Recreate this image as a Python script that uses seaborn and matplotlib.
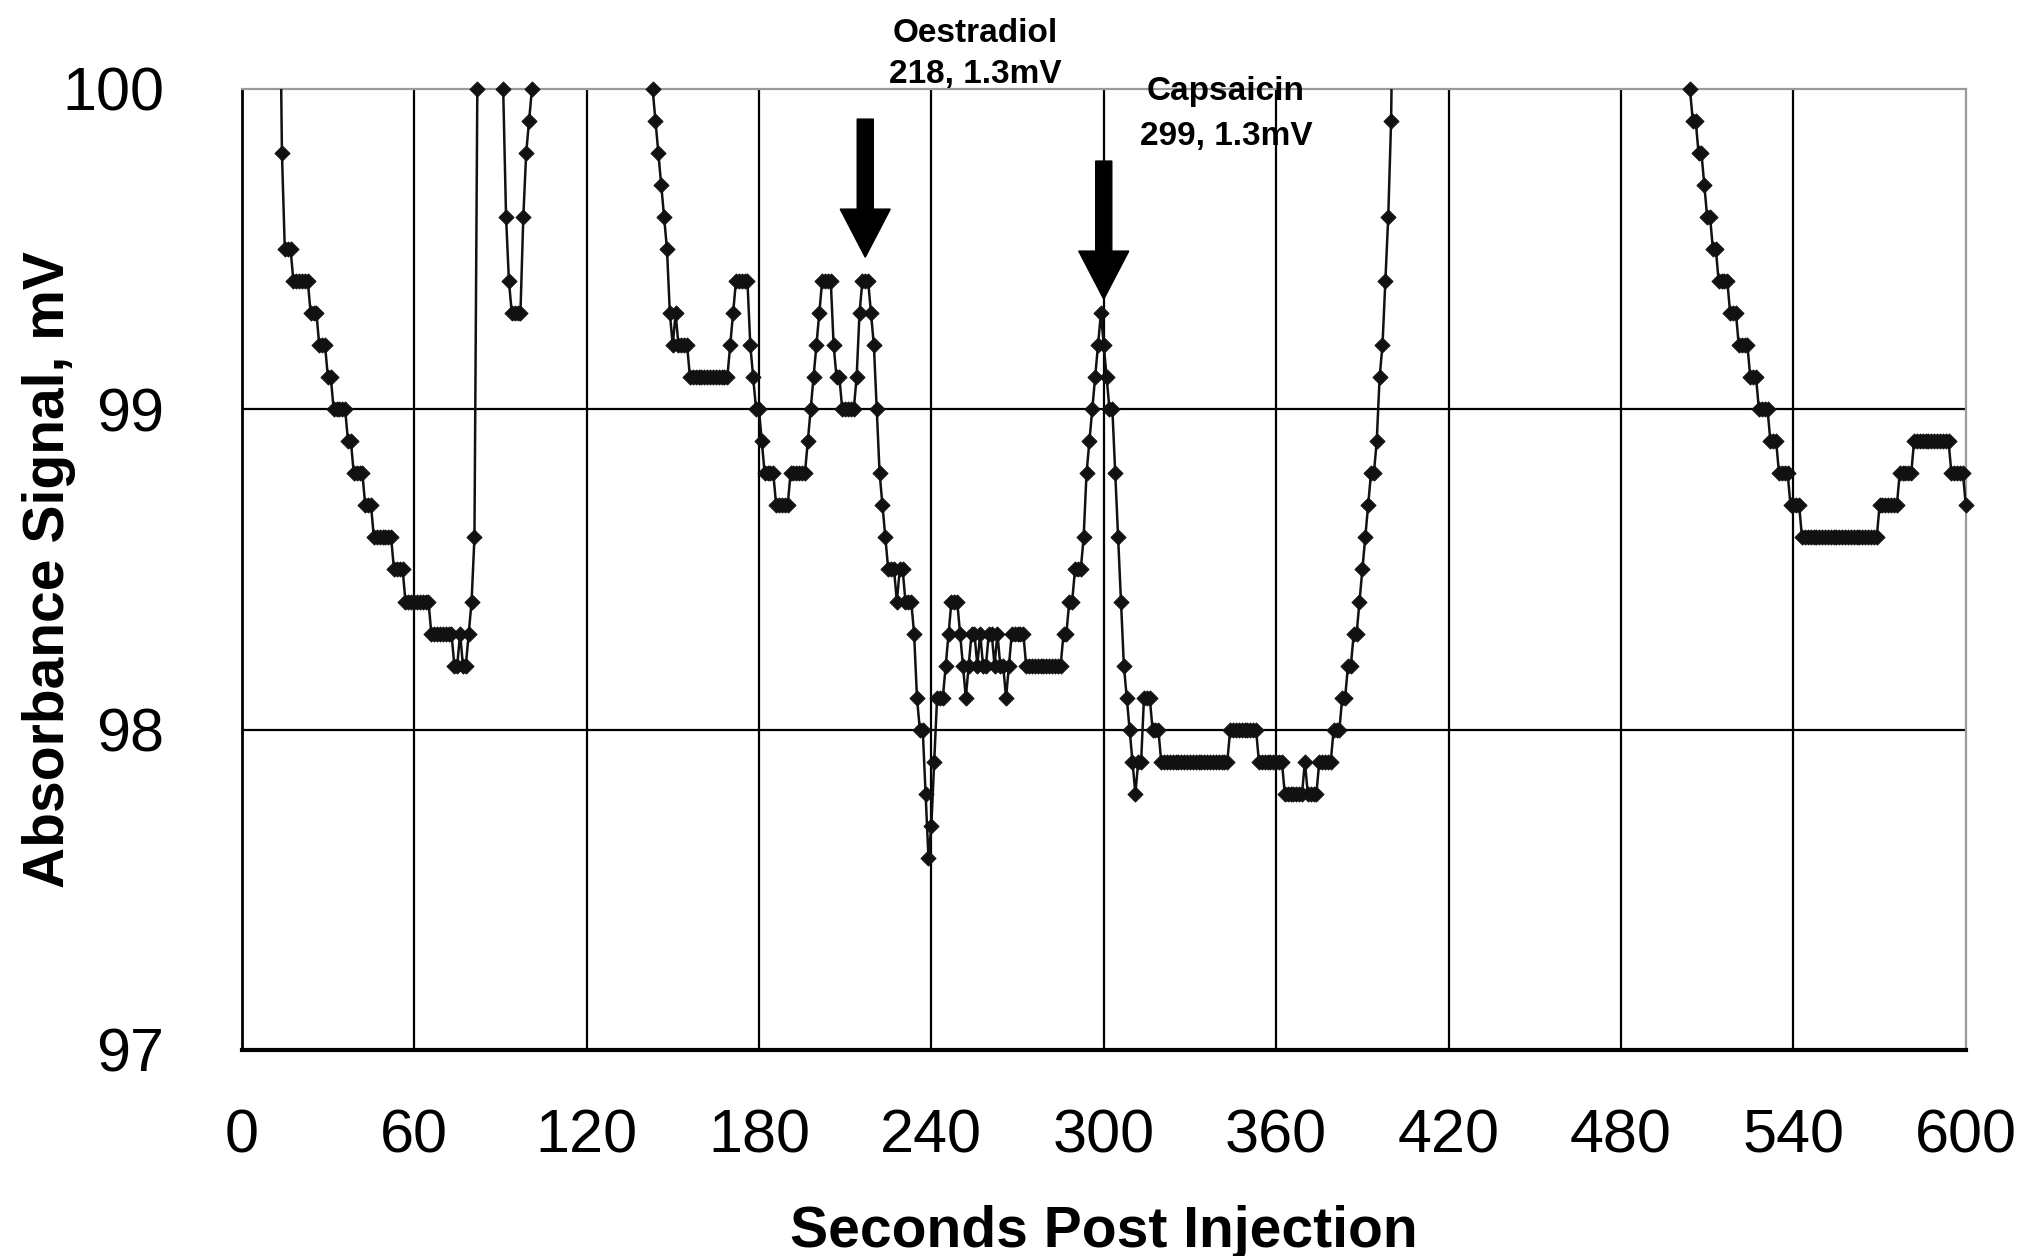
import numpy as np
import pandas as pd
import matplotlib
matplotlib.use("Agg")
import matplotlib.pyplot as plt
import seaborn as sns

# Absorbance trace, one reading per second (mV).
# Readings above 100 mV leave the top of the axis, so only the neighbour
# of each in-range run is kept as an off-scale value.
seg1_start = 13
seg1_mv = [
    100.6, 99.8, 99.5, 99.5, 99.5, 99.4, 99.4,                       # 13-19
    99.4, 99.4, 99.4, 99.4, 99.3, 99.3, 99.3, 99.2, 99.2, 99.2,      # 20-29
    99.1, 99.1, 99.0, 99.0, 99.0, 99.0, 99.0, 98.9, 98.9, 98.8,      # 30-39
    98.8, 98.8, 98.8, 98.7, 98.7, 98.7, 98.6, 98.6, 98.6, 98.6,      # 40-49
    98.6, 98.6, 98.6, 98.5, 98.5, 98.5, 98.5, 98.4, 98.4, 98.4,      # 50-59
    98.4, 98.4, 98.4, 98.4, 98.4, 98.4, 98.3, 98.3, 98.3, 98.3,      # 60-69
    98.3, 98.3, 98.3, 98.3, 98.2, 98.2, 98.3, 98.2, 98.2, 98.3,      # 70-79
    98.4, 98.6, 100.0, 100.6,                                        # 80-83
]

seg2_start = 90
seg2_mv = [
    100.6, 100.0, 99.6, 99.4, 99.3, 99.3, 99.3, 99.3, 99.6, 99.8,   # 90-99
    99.9, 100.0, 100.6,                                              # 100-102
]

seg3_start = 142
seg3_mv = [
    100.6, 100.0, 99.9, 99.8, 99.7, 99.6, 99.5, 99.3,                # 142-149
    99.2, 99.3, 99.2, 99.2, 99.2, 99.2, 99.1, 99.1, 99.1, 99.1,      # 150-159
    99.1, 99.1, 99.1, 99.1, 99.1, 99.1, 99.1, 99.1, 99.1, 99.1,      # 160-169
    99.2, 99.3, 99.4, 99.4, 99.4, 99.4, 99.4, 99.2, 99.1, 99.0,      # 170-179
    99.0, 98.9, 98.8, 98.8, 98.8, 98.8, 98.7, 98.7, 98.7, 98.7,      # 180-189
    98.7, 98.8, 98.8, 98.8, 98.8, 98.8, 98.8, 98.9, 99.0, 99.1,      # 190-199
    99.2, 99.3, 99.4, 99.4, 99.4, 99.4, 99.2, 99.1, 99.1, 99.0,      # 200-209
    99.0, 99.0, 99.0, 99.0, 99.1, 99.3, 99.4, 99.4, 99.4, 99.3,      # 210-219
    99.2, 99.0, 98.8, 98.7, 98.6, 98.5, 98.5, 98.5, 98.4, 98.5,      # 220-229
    98.5, 98.4, 98.4, 98.4, 98.3, 98.1, 98.0, 98.0, 97.8, 97.6,      # 230-239
    97.7, 97.9, 98.1, 98.1, 98.1, 98.2, 98.3, 98.4, 98.4, 98.4,      # 240-249
    98.3, 98.2, 98.1, 98.2, 98.3, 98.3, 98.2, 98.3, 98.2, 98.2,      # 250-259
    98.3, 98.3, 98.2, 98.3, 98.2, 98.2, 98.1, 98.2, 98.3, 98.3,      # 260-269
    98.3, 98.3, 98.3, 98.2, 98.2, 98.2, 98.2, 98.2, 98.2, 98.2,      # 270-279
    98.2, 98.2, 98.2, 98.2, 98.2, 98.2, 98.3, 98.3, 98.4, 98.4,      # 280-289
    98.5, 98.5, 98.5, 98.6, 98.8, 98.9, 99.0, 99.1, 99.2, 99.3,      # 290-299
    99.2, 99.1, 99.0, 99.0, 98.8, 98.6, 98.4, 98.2, 98.1, 98.0,      # 300-309
    97.9, 97.8, 97.9, 97.9, 98.1, 98.1, 98.1, 98.0, 98.0, 98.0,      # 310-319
    97.9, 97.9, 97.9, 97.9, 97.9, 97.9, 97.9, 97.9, 97.9, 97.9,      # 320-329
    97.9, 97.9, 97.9, 97.9, 97.9, 97.9, 97.9, 97.9, 97.9, 97.9,      # 330-339
    97.9, 97.9, 97.9, 97.9, 98.0, 98.0, 98.0, 98.0, 98.0, 98.0,      # 340-349
    98.0, 98.0, 98.0, 98.0, 97.9, 97.9, 97.9, 97.9, 97.9, 97.9,      # 350-359
    97.9, 97.9, 97.9, 97.8, 97.8, 97.8, 97.8, 97.8, 97.8, 97.8,      # 360-369
    97.9, 97.8, 97.8, 97.8, 97.8, 97.9, 97.9, 97.9, 97.9, 97.9,      # 370-379
    98.0, 98.0, 98.0, 98.1, 98.1, 98.2, 98.2, 98.3, 98.3, 98.4,      # 380-389
    98.5, 98.6, 98.7, 98.8, 98.8, 98.9, 99.1, 99.2, 99.4, 99.6,      # 390-399
    99.9, 100.6,                                                     # 400-401
]

seg4_start = 503
seg4_mv = [
    100.6, 100.0, 99.9, 99.9, 99.8, 99.8, 99.7,                      # 503-509
    99.6, 99.6, 99.5, 99.5, 99.4, 99.4, 99.4, 99.4, 99.3, 99.3,      # 510-519
    99.3, 99.2, 99.2, 99.2, 99.2, 99.1, 99.1, 99.1, 99.0, 99.0,      # 520-529
    99.0, 99.0, 98.9, 98.9, 98.9, 98.8, 98.8, 98.8, 98.8, 98.7,      # 530-539
    98.7, 98.7, 98.7, 98.6, 98.6, 98.6, 98.6, 98.6, 98.6, 98.6,      # 540-549
    98.6, 98.6, 98.6, 98.6, 98.6, 98.6, 98.6, 98.6, 98.6, 98.6,      # 550-559
    98.6, 98.6, 98.6, 98.6, 98.6, 98.6, 98.6, 98.6, 98.6, 98.6,      # 560-569
    98.7, 98.7, 98.7, 98.7, 98.7, 98.7, 98.7, 98.8, 98.8, 98.8,      # 570-579
    98.8, 98.8, 98.9, 98.9, 98.9, 98.9, 98.9, 98.9, 98.9, 98.9,      # 580-589
    98.9, 98.9, 98.9, 98.9, 98.9, 98.8, 98.8, 98.8, 98.8, 98.8,      # 590-599
    98.7,                                                            # 600
]

x_ticks = [0, 60, 120, 180, 240, 300, 360, 420, 480, 540, 600]
y_ticks = [97, 98, 99, 100]

# Injection markers: (time s, arrow top mV, arrow tip mV, title, detail)
marker_times = [217, 300]
marker_tops = [99.906, 99.775]
marker_tips = [99.475, 99.344]
marker_titles = ["Oestradiol", "Capsaicin"]
marker_details = ["218, 1.3mV", "299, 1.3mV"]

sns.set_theme(style="white")
plt.rcParams["font.family"] = ["Liberation Sans", "DejaVu Sans"]
tick_font = ["Liberation Sans Narrow", "Liberation Sans", "DejaVu Sans"]

W, H = 2017, 1256
fig = plt.figure(figsize=(W / 100, H / 100), dpi=100)
fig.patch.set_facecolor("white")
x0, x1, ytop, ybot = 241.7, 1965.8, 89.0, 1050.0
ax = fig.add_axes([x0 / W, 1 - ybot / H, (x1 - x0) / W, (ybot - ytop) / H])
ax.set_facecolor("white")

ink = "#111111"
segments = [(seg1_start, seg1_mv), (seg2_start, seg2_mv),
            (seg3_start, seg3_mv), (seg4_start, seg4_mv)]
for start, vals in segments:
    df = pd.DataFrame({"sec": np.arange(start, start + len(vals)), "mv": vals})
    sns.lineplot(data=df, x="sec", y="mv", ax=ax, color=ink, linewidth=1.8,
                 estimator=None, sort=False, legend=False, zorder=3)
    shown = df[(df["mv"] <= 100) & (df["mv"] >= 97)]
    sns.scatterplot(data=shown, x="sec", y="mv", ax=ax, marker="D", s=60,
                    color=ink, edgecolor=ink, linewidth=0.6, clip_on=False,
                    zorder=4, legend=False)

ax.set_xlim(0, 600)
ax.set_ylim(97, 100)
ax.set_xticks(x_ticks)
ax.set_yticks(y_ticks)
ax.set_xticklabels([str(v) for v in x_ticks], family=tick_font)
ax.set_yticklabels([str(v) for v in y_ticks], family=tick_font)

ax.grid(True, color="black", linewidth=1.6)
ax.set_axisbelow(True)
for line, v in zip(ax.get_xgridlines(), x_ticks):
    if v in (0, 600):
        line.set_visible(False)
for line, v in zip(ax.get_ygridlines(), y_ticks):
    if v in (97, 100):
        line.set_visible(False)

for side in ("top", "right"):
    ax.spines[side].set_color("#9a9a9a")
    ax.spines[side].set_linewidth(1.6)
ax.spines["left"].set_color("black")
ax.spines["left"].set_linewidth(2.0)
ax.spines["bottom"].set_color("black")
ax.spines["bottom"].set_linewidth(3.0)

ax.tick_params(axis="both", direction="out", length=14, width=1.5,
               color="black", labelsize=44, labelcolor="black")
ax.tick_params(axis="x", pad=28)
ax.tick_params(axis="y", pad=42)
ax.set_xlabel("")
ax.set_ylabel("")

# Axis titles
fig.text(1103.7 / W, 1 - 1247 / H, "Seconds Post Injection", ha="center",
         va="baseline", fontsize=41, fontweight="bold", color="black")
fig.text(64 / W, 1 - 570 / H, "Absorbance Signal, mV", rotation=90,
         rotation_mode="anchor", ha="center", va="baseline",
         fontsize=41, fontweight="bold", color="black")

# Injection arrows and labels
label_x = [975, 1226]
label_y = [(41.7, 83.3), (100, 145)]
for t, top, tip, title, detail, lx, (ly1, ly2) in zip(
        marker_times, marker_tops, marker_tips, marker_titles,
        marker_details, label_x, label_y):
    ax.arrow(t, top, 0, tip - top, width=5.6, head_width=17.4,
             head_length=0.15, length_includes_head=True, color="black",
             clip_on=False, zorder=6)
    fig.text(lx / W, 1 - ly1 / H, title, ha="center", va="baseline",
             fontsize=24, fontweight="bold", color="black")
    fig.text(lx / W, 1 - ly2 / H, detail, ha="center", va="baseline",
             fontsize=24, fontweight="semibold", color="black")

fig.savefig("out.png", dpi=100, facecolor="white")
